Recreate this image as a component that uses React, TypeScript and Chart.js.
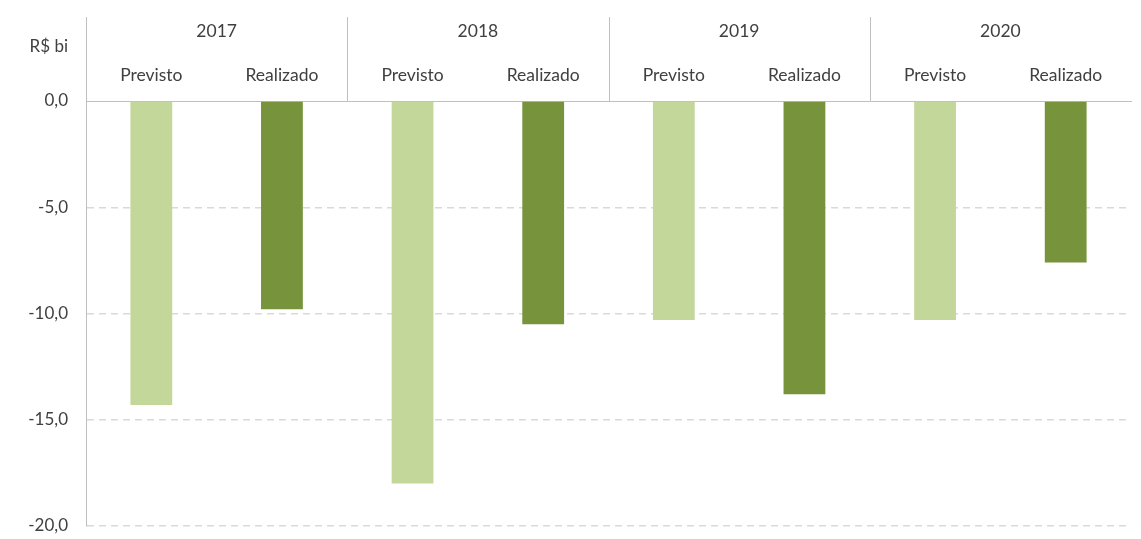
import React, { useEffect, useRef } from "react";
import { Chart, registerables } from "chart.js";

Chart.register(...registerables);

const years = ["2017", "2018", "2019", "2020"];
const seriesNames = ["Previsto", "Realizado"];
const previsto = [-14.3, -18.0, -10.3, -10.3];
const realizado = [-9.8, -10.5, -13.8, -7.6];
const yMin = -20;
const yMax = 0;
const yStep = 5;
const unitLabel = "R$ bi";

const lightGreen = "#C4D79B";
const darkGreen = "#77933C";
const textColor = "#404040";
const FONT = "Lato";

export default function App() {
  const ref = useRef<HTMLCanvasElement | null>(null);

  useEffect(() => {
    if (!ref.current) return;
    const labels: string[] = [];
    const values: number[] = [];
    const colors: string[] = [];
    years.forEach((_, i) => {
      labels.push(seriesNames[0]);
      values.push(previsto[i]);
      colors.push(lightGreen);
      labels.push(seriesNames[1]);
      values.push(realizado[i]);
      colors.push(darkGreen);
    });

    const headerPlugin = {
      id: "header",
      afterDraw(chart: any) {
        const { ctx, chartArea } = chart;
        const w = (chartArea.right - chartArea.left) / years.length;
        ctx.save();
        ctx.strokeStyle = "#BFBFBF";
        ctx.lineWidth = 1;
        for (let i = 0; i < years.length; i++) {
          const x = Math.round(chartArea.left + i * w) + 0.5;
          ctx.beginPath();
          ctx.moveTo(x, 17);
          ctx.lineTo(x, chartArea.top);
          ctx.stroke();
        }
        ctx.fillStyle = textColor;
        ctx.font = `17px ${FONT}`;
        ctx.textAlign = "right";
        ctx.textBaseline = "middle";
        ctx.fillText(unitLabel, 68, 47);
        ctx.restore();
      },
    };

    const chart = new Chart(ref.current, {
      type: "bar",
      data: {
        labels,
        datasets: [
          {
            data: values,
            backgroundColor: colors,
            borderWidth: 0,
            barPercentage: 0.32,
            categoryPercentage: 1,
          },
        ],
      },
      options: {
        responsive: false,
        animation: false,
        layout: { padding: { top: 10, right: 10, bottom: 13, left: 0 } },
        plugins: { legend: { display: false }, tooltip: { enabled: false } },
        scales: {
          x: {
            type: "category",
            position: "top",
            weight: 0,
            offset: true,
            grid: { display: false },
            border: { display: true, color: "#BFBFBF", width: 1 },
            ticks: {
              color: textColor,
              font: { family: FONT, size: 17.5 },
              padding: 7,
              maxRotation: 0,
              autoSkip: false,
            },
            afterFit: (s: any) => {
              s.height = 51;
            },
          },
          x2: {
            type: "category",
            position: "top",
            weight: 1,
            labels: years,
            offset: true,
            grid: { display: false },
            border: { display: false },
            ticks: {
              color: textColor,
              font: { family: FONT, size: 17.5 },
              padding: 0,
              maxRotation: 0,
              autoSkip: false,
            },
            afterFit: (s: any) => {
              s.height = 40;
            },
          },
          y: {
            min: yMin,
            max: yMax,
            ticks: {
              stepSize: yStep,
              color: textColor,
              font: { family: FONT, size: 17 },
              padding: 18,
              callback: (v: any) => Number(v).toFixed(1).replace(".", ","),
            },
            grid: {
              drawTicks: false,
              color: (c: any) => (c.tick && c.tick.value === 0 ? "rgba(0,0,0,0)" : "#D9D9D9"),
              lineWidth: 1.5,
            },
            border: { display: true, color: "#BFBFBF", width: 1, dash: [7, 5] },
            afterFit: (s: any) => {
              s.width = 86;
              s.paddingTop = 0;
              s.paddingBottom = 0;
            },
          },
        },
      },
      plugins: [headerPlugin],
    });
    return () => chart.destroy();
  }, []);

  return (
    <div style={{ position: "fixed", left: 0, top: 0, width: 1141, height: 539, background: "#fff" }}>
      <canvas ref={ref} width={1141} height={539} />
    </div>
  );
}
